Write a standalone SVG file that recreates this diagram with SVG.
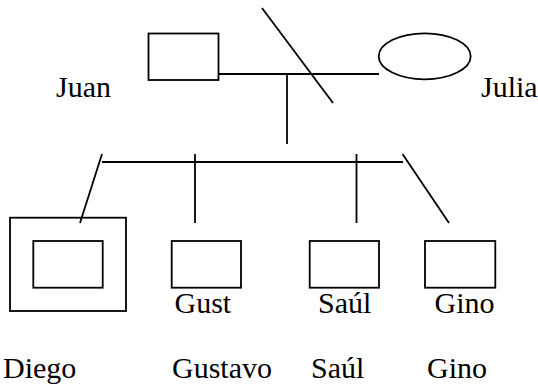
<svg xmlns="http://www.w3.org/2000/svg" width="538" height="384" viewBox="0 0 538 384">
  <style>
    .shape { fill: none; stroke: #000; stroke-width: 1.8; }
    .link { fill: none; stroke: #000; stroke-width: 1.8; }
    text { font-family: "Liberation Serif", "Times New Roman", serif; font-size: 30px; fill: #000; }
  </style>
  <rect width="538" height="384" fill="#fff"/>

  <!-- connectors -->
  <g id="connectors">
    <line class="link" x1="218.5" y1="74" x2="379" y2="74"/>
    <line class="link" x1="262" y1="8" x2="333" y2="103"/>
    <line class="link" x1="287" y1="74" x2="287" y2="144"/>
    <line class="link" x1="102" y1="162" x2="403" y2="162"/>
    <line class="link" x1="102" y1="154" x2="80" y2="223"/>
    <line class="link" x1="195" y1="154" x2="195" y2="223"/>
    <line class="link" x1="356.5" y1="154" x2="356.5" y2="223"/>
    <line class="link" x1="402.5" y1="154" x2="449" y2="223"/>
  </g>

  <!-- parents -->
  <g id="juan">
    <rect class="shape" x="148.5" y="33.5" width="70" height="46.5"/>
    <text x="56" y="97">Juan</text>
  </g>
  <g id="julia">
    <ellipse class="shape" cx="424.7" cy="56.3" rx="46" ry="23"/>
    <text x="481" y="97">Julia</text>
  </g>

  <!-- children -->
  <g id="diego">
    <rect class="shape" x="10" y="217.7" width="116" height="93.3"/>
    <rect class="shape" x="33.3" y="241" width="69.4" height="46.7"/>
    <text x="3" y="378">Diego</text>
  </g>
  <g id="gustavo">
    <rect class="shape" x="171.7" y="241" width="69.3" height="46.7"/>
    <text x="174.5" y="313">Gust</text>
    <text x="172" y="378">Gustavo</text>
  </g>
  <g id="saul">
    <rect class="shape" x="309.7" y="241" width="69.3" height="46.7"/>
    <text x="318" y="313">Saúl</text>
    <text x="311" y="378">Saúl</text>
  </g>
  <g id="gino">
    <rect class="shape" x="425" y="241" width="70.3" height="46.7"/>
    <text x="434.5" y="313">Gino</text>
    <text x="427" y="378">Gino</text>
  </g>
</svg>
